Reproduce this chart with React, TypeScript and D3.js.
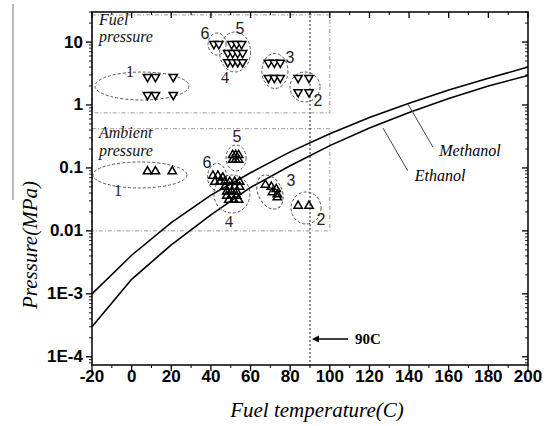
import React from 'react';
import * as d3 from 'd3';

// Vapour pressure curves (MPa)
const temps = [-20, 0, 20, 40, 60, 80, 100, 120, 140, 160, 180, 200];
const methanol = [1.0e-3, 4.1e-3, 1.35e-2, 3.7e-2, 8.4e-2, 0.18, 0.35, 0.63, 1.07, 1.73, 2.65, 4.0];
const ethanol = [3.0e-4, 1.7e-3, 6.0e-3, 1.8e-2, 4.9e-2, 0.108, 0.226, 0.43, 0.76, 1.27, 2.0, 2.95];

const xTicks = [-20, 0, 20, 40, 60, 80, 100, 120, 140, 160, 180, 200];
const yTickValues = [1e-4, 1e-3, 0.01, 0.1, 1, 10];
const yTickLabels = ['1E-4', '1E-3', '0.01', '0.1', '1', '10'];

// Fuel pressure points (down triangles)
const fuelT = [8, 12, 21, 8, 12, 21, 41.5, 44, 50.5, 53, 55.5, 48.5, 51, 53.5, 56, 48.5, 51, 53.5, 56, 69, 72, 75, 69, 72, 75, 84, 89.5, 84, 89.5];
const fuelP = [2.8, 2.8, 2.8, 1.45, 1.45, 1.45, 9.3, 9.3, 9.3, 9.3, 9.3, 6.7, 6.7, 6.7, 6.7, 4.8, 4.8, 4.8, 4.8, 4.7, 4.7, 4.7, 2.7, 2.7, 2.7, 2.7, 2.7, 1.6, 1.6];

// Ambient pressure points (up triangles)
const ambT = [8, 12, 20.5, 51, 52.5, 54, 51, 52.5, 54, 41, 43.5, 46, 42, 44.5, 47, 49.5, 52, 54.5, 47, 49.5, 52, 54.5, 48, 50.5, 53, 48, 50.5, 53, 49, 51.5, 54, 67.5, 70.5, 73, 71, 73.5, 73.5, 84, 89.5];
const ambP = [0.088, 0.088, 0.088, 0.16, 0.16, 0.16, 0.134, 0.134, 0.134, 0.075, 0.075, 0.07, 0.06, 0.06, 0.06, 0.06, 0.06, 0.06, 0.05, 0.05, 0.05, 0.05, 0.042, 0.042, 0.042, 0.036, 0.036, 0.036, 0.031, 0.031, 0.031, 0.054, 0.05, 0.046, 0.041, 0.038, 0.034, 0.025, 0.025];

// group ellipses (centres in data units)
const fuelGroupT = [5.2, 43.1, 52.2, 72.3, 87.5];
const fuelGroupP = [2.0, 9.3, 6.95, 3.47, 1.93];
const ambGroupT = [4.2, 52.7, 43.1, 50.6, 69.8, 88.0];
const ambGroupP = [0.0773, 0.144, 0.0718, 0.0385, 0.0415, 0.0231];

// group numbers
const fuelLabelText = ['1', '6', '5', '4', '3', '2'];
const fuelLabelT = [-0.8, 37.0, 54.7, 47.1, 79.9, 94.0];
const fuelLabelP = [3.35, 13.9, 16.7, 2.69, 5.58, 1.16];
const ambLabelText = ['1', '6', '5', '4', '3', '2'];
const ambLabelT = [-6.9, 38.0, 53.2, 49.1, 80.4, 95.5];
const ambLabelP = [0.0446, 0.12, 0.31, 0.01435, 0.062, 0.0149];

// region boxes [T0, T1, P0, P1]
const fuelBox = [-20, 100, 0.75, 27];
const ambBox = [-20, 100, 0.01, 0.42];

const markTemp = 90;

const W = 552, H = 426;
const L = 92, R = 528, T = 12, B = 365;

export default function App() {
  const x = d3.scaleLinear().domain([-20, 200]).range([L, R]);
  const y = d3.scaleLog().domain([7.4e-5, 30]).range([B, T]);

  const line = d3.line<number>().x((_, i) => x(temps[i])).y((d) => y(d)).curve(d3.curveLinear);

  const minorX = d3.range(-20, 201, 10).filter((v) => v % 20 !== 0);
  const minorY: number[] = [];
  for (let e = -5; e <= 1; e++) {
    for (let k = 2; k <= 9; k++) {
      const v = k * Math.pow(10, e);
      if (v >= 7.4e-5 && v <= 30) minorY.push(v);
    }
  }

  const tri = d3.symbol(d3.symbolTriangle, 30)();

  const fuelRx = [47, 9, 15.5, 13, 15];
  const fuelRy = [14, 11, 20, 17.5, 15];
  const ambRx = [47, 10, 9.5, 18, 12, 15];
  const ambRy = [13, 13, 13.5, 19, 18, 16];
  const ambRot = [0, 0, 0, 0, -25, 0];

  const sans = "'Liberation Sans', Arial, sans-serif";
  const serif = "'Liberation Serif', 'Times New Roman', serif";

  const box = (b: number[]) => (
    <rect x={x(b[0])} y={y(b[3])} width={x(b[1]) - x(b[0])} height={y(b[2]) - y(b[3])}
      fill="none" stroke="#9a9a9a" strokeWidth={1} strokeDasharray="4,2,1,2" />
  );

  return (
    <svg width={W} height={H} style={{ position: 'absolute', left: 0, top: 0, background: '#fff' }}>
      <rect width={W} height={H} fill="#fff" />
      {/* scan artefact line */}
      <line x1={13} x2={13} y1={4} y2={200} stroke="#8a8a8a" strokeWidth={1.2} />

      {box(fuelBox)}
      {box(ambBox)}

      {/* 90C line */}
      <line x1={x(markTemp)} x2={x(markTemp)} y1={T} y2={B} stroke="#222" strokeWidth={1} strokeDasharray="2,2" />

      {/* curves */}
      <path d={line(methanol) || ''} fill="none" stroke="#000" strokeWidth={1.6} />
      <path d={line(ethanol) || ''} fill="none" stroke="#000" strokeWidth={1.6} />

      {/* ellipses */}
      {fuelGroupT.map((t, i) => (
        <ellipse key={'fe' + i} cx={x(t)} cy={y(fuelGroupP[i])} rx={fuelRx[i]} ry={fuelRy[i]}
          fill="none" stroke="#555" strokeWidth={1} strokeDasharray="3,2" />
      ))}
      {ambGroupT.map((t, i) => (
        <ellipse key={'ae' + i} cx={x(t)} cy={y(ambGroupP[i])} rx={ambRx[i]} ry={ambRy[i]}
          transform={`rotate(${ambRot[i]},${x(t)},${y(ambGroupP[i])})`}
          fill="none" stroke="#555" strokeWidth={1} strokeDasharray="3,2" />
      ))}

      {/* markers */}
      {fuelT.map((t, i) => (
        <path key={'f' + i} d={tri || ''} transform={`translate(${x(t)},${y(fuelP[i])}) rotate(180)`}
          fill="#fff" stroke="#000" strokeWidth={1.5} />
      ))}
      {ambT.map((t, i) => (
        <path key={'a' + i} d={tri || ''} transform={`translate(${x(t)},${y(ambP[i])})`}
          fill="none" stroke="#000" strokeWidth={1.5} />
      ))}

      {/* group numbers */}
      {fuelLabelText.map((s, i) => (
        <text key={'fl' + i} x={x(fuelLabelT[i])} y={y(fuelLabelP[i])} textAnchor="middle" dominantBaseline="central"
          fontFamily={s === '1' || s === '4' ? serif : sans} fontSize={16} fill="#222">{s}</text>
      ))}
      {ambLabelText.map((s, i) => (
        <text key={'al' + i} x={x(ambLabelT[i])} y={y(ambLabelP[i])} textAnchor="middle" dominantBaseline="central"
          fontFamily={s === '1' || s === '4' ? serif : sans} fontSize={16} fill="#222">{s}</text>
      ))}

      {/* region titles */}
      <text x={99} y={25} fontFamily={serif} fontStyle="italic" fontSize={16} fill="#111">Fuel</text>
      <text x={99} y={42} fontFamily={serif} fontStyle="italic" fontSize={16} fill="#111">pressure</text>
      <text x={99} y={138} fontFamily={serif} fontStyle="italic" fontSize={16} fill="#111">Ambient</text>
      <text x={99} y={156} fontFamily={serif} fontStyle="italic" fontSize={16} fill="#111">pressure</text>

      {/* curve labels */}
      <line x1={x(139.4)} y1={y(1.04)} x2={x(152)} y2={y(0.215)} stroke="#444" strokeWidth={1} />
      <line x1={x(126.8)} y1={y(0.431)} x2={x(139.4)} y2={y(0.0894)} stroke="#444" strokeWidth={1} />
      <text x={x(170.7)} y={y(0.186)} textAnchor="middle" dominantBaseline="central" fontFamily={serif} fontStyle="italic" fontSize={16}>Methanol</text>
      <text x={x(155.6)} y={y(0.0772)} textAnchor="middle" dominantBaseline="central" fontFamily={serif} fontStyle="italic" fontSize={16}>Ethanol</text>

      {/* 90C arrow */}
      <line x1={x(109.2)} x2={x(markTemp) + 6} y1={y(1.91e-4)} y2={y(1.91e-4)} stroke="#000" strokeWidth={1.5} />
      <path d={`M${x(markTemp) + 2},${y(1.91e-4)} l7,-3.5 l0,7 z`} fill="#000" />
      <text x={x(112.7)} y={y(1.91e-4)} dominantBaseline="central" fontFamily={serif} fontWeight="bold" fontSize={15}>90C</text>

      {/* frame */}
      <rect x={L} y={T} width={R - L} height={B - T} fill="none" stroke="#000" strokeWidth={1.5} />

      {/* x ticks */}
      {xTicks.map((v) => (
        <g key={'xt' + v}>
          <line x1={x(v)} x2={x(v)} y1={B} y2={B + 6} stroke="#000" strokeWidth={1.3} />
          <line x1={x(v)} x2={x(v)} y1={T} y2={T + 6} stroke="#000" strokeWidth={1.3} />
          <text x={x(v)} y={382} textAnchor="middle" fontFamily={sans} fontWeight="bold" fontSize={17}>{v}</text>
        </g>
      ))}
      {minorX.map((v) => (
        <g key={'xm' + v}>
          <line x1={x(v)} x2={x(v)} y1={B} y2={B + 3} stroke="#000" strokeWidth={1} />
          <line x1={x(v)} x2={x(v)} y1={T} y2={T + 3} stroke="#000" strokeWidth={1} />
        </g>
      ))}

      {/* y ticks */}
      {yTickValues.map((v, i) => (
        <g key={'yt' + i}>
          <line x1={L - 6} x2={L} y1={y(v)} y2={y(v)} stroke="#000" strokeWidth={1.3} />
          <line x1={R - 6} x2={R} y1={y(v)} y2={y(v)} stroke="#000" strokeWidth={1.3} />
          <text x={83} y={y(v)} textAnchor="end" dominantBaseline="central" fontFamily={sans} fontWeight="bold" fontSize={17}>{yTickLabels[i]}</text>
        </g>
      ))}
      {minorY.map((v, i) => (
        <g key={'ym' + i}>
          <line x1={L - 3} x2={L} y1={y(v)} y2={y(v)} stroke="#000" strokeWidth={0.9} />
          <line x1={R - 3} x2={R} y1={y(v)} y2={y(v)} stroke="#000" strokeWidth={0.9} />
        </g>
      ))}

      {/* axis titles */}
      <text x={317} y={417} textAnchor="middle" fontFamily={serif} fontStyle="italic" fontSize={21}>Fuel temperature(C)</text>
      <text transform="translate(37,245) rotate(-90)" textAnchor="middle" fontFamily={serif} fontStyle="italic" fontSize={21}>Pressure(MPa)</text>
    </svg>
  );
}
